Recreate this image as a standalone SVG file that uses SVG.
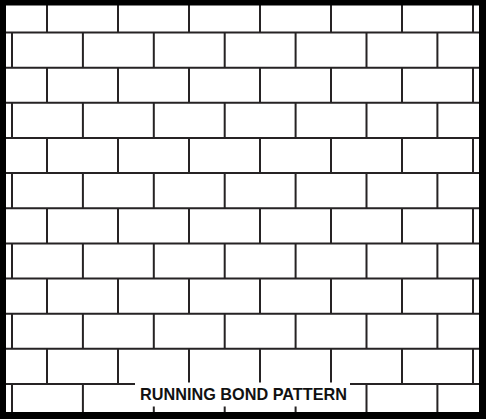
<svg xmlns="http://www.w3.org/2000/svg" xmlns:xlink="http://www.w3.org/1999/xlink" width="486" height="419" viewBox="0 0 486 419">
  <style>
    .mortar { fill: none; stroke: #262324; stroke-width: 2; }
    .label { font-family: "Liberation Sans", Arial, sans-serif; font-weight: bold; font-size: 16.5px; fill: #111; }
  </style>
  <defs>
    <path id="rowE" d="M47 0v35.15M118 0v35.15M189 0v35.15M260 0v35.15M331 0v35.15M402 0v35.15M473 0v35.15"/>
    <path id="rowO" d="M12 0v35.15M82.9 0v35.15M153.8 0v35.15M224.7 0v35.15M295.6 0v35.15M366.5 0v35.15M437.4 0v35.15"/>
  </defs>
  <rect x="0" y="0" width="486" height="419" fill="#ffffff"/>
  <g id="bricks" class="mortar">
    <path d="M6 32.5H479M6 67.65H479M6 102.8H479M6 137.95H479M6 173.1H479M6 208.25H479M6 243.4H479M6 278.55H479M6 313.7H479M6 348.85H479M6 384H479"/>
    <use xlink:href="#rowE" y="-2.65"/>
    <use xlink:href="#rowO" y="32.5"/>
    <use xlink:href="#rowE" y="67.65"/>
    <use xlink:href="#rowO" y="102.8"/>
    <use xlink:href="#rowE" y="137.95"/>
    <use xlink:href="#rowO" y="173.1"/>
    <use xlink:href="#rowE" y="208.25"/>
    <use xlink:href="#rowO" y="243.4"/>
    <use xlink:href="#rowE" y="278.55"/>
    <use xlink:href="#rowO" y="313.7"/>
    <use xlink:href="#rowE" y="348.85"/>
    <use xlink:href="#rowO" y="384"/>
  </g>
  <g id="title">
    <rect x="135" y="382.5" width="215" height="24" fill="#ffffff"/>
    <text class="label" x="243.5" y="400" text-anchor="middle" textLength="207" lengthAdjust="spacingAndGlyphs">RUNNING BOND PATTERN</text>
  </g>
  <path id="frame" d="M0 0H486V419H0Z M6 5.5V412H479V5.5Z" fill="#000000" fill-rule="evenodd"/>
</svg>
